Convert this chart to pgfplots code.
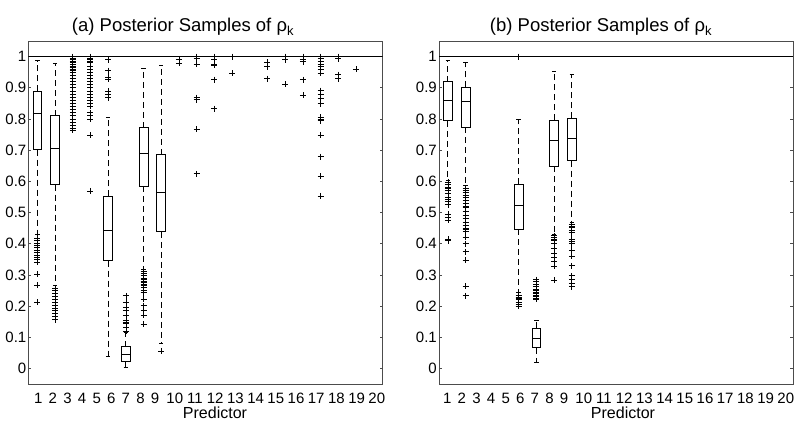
\documentclass[border=0pt]{standalone}
\usepackage{fontspec}
\setmainfont{Liberation Sans}
\usepackage{pgfplots}
\usepackage{pgfplotstable}
\pgfplotsset{compat=1.18}
\usepgfplotslibrary{statistics}

\pgfplotstableread{
x y
1 0.418
1 0.410
1 0.402
1 0.395
1 0.388
1 0.380
1 0.372
1 0.364
1 0.357
1 0.349
1 0.341
1 0.302
1 0.267
1 0.212
2 0.256
2 0.249
2 0.240
2 0.231
2 0.222
2 0.212
2 0.201
2 0.193
2 0.185
2 0.177
2 0.166
2 0.156
3 1.000
3 0.995
3 0.990
3 0.985
3 0.980
3 0.975
3 0.970
3 0.965
3 0.960
3 0.955
3 0.950
3 0.940
3 0.930
3 0.920
3 0.910
3 0.900
3 0.890
3 0.880
3 0.870
3 0.860
3 0.850
3 0.840
3 0.830
3 0.820
3 0.810
3 0.800
3 0.790
3 0.780
3 0.770
3 0.765
4 1.000
4 0.995
4 0.990
4 0.985
4 0.980
4 0.970
4 0.960
4 0.950
4 0.940
4 0.930
4 0.920
4 0.910
4 0.900
4 0.890
4 0.880
4 0.870
4 0.860
4 0.850
4 0.840
4 0.820
4 0.810
4 0.800
4 0.748
4 0.569
5 0.990
5 0.955
5 0.933
5 0.928
5 0.889
5 0.880
5 0.868
6 0.233
6 0.212
6 0.196
6 0.185
6 0.169
6 0.153
6 0.148
6 0.143
6 0.132
6 0.119
7 0.312
7 0.305
7 0.298
7 0.290
7 0.285
7 0.280
7 0.275
7 0.270
7 0.265
7 0.260
7 0.250
7 0.243
7 0.222
7 0.201
7 0.185
7 0.171
7 0.141
8 0.056
9 0.990
9 0.979
10 1.000
10 0.993
10 0.976
10 0.868
10 0.862
10 0.767
10 0.624
11 1.000
11 0.990
11 0.976
11 0.973
11 0.926
11 0.833
12 1.000
12 0.947
14 0.982
14 0.968
14 0.929
15 1.000
15 0.990
15 0.912
16 1.000
16 0.990
16 0.984
16 0.926
16 0.876
17 1.000
17 0.993
17 0.984
17 0.976
17 0.968
17 0.958
17 0.947
17 0.891
17 0.878
17 0.866
17 0.849
17 0.806
17 0.799
17 0.794
17 0.749
17 0.679
17 0.616
17 0.553
18 1.000
18 0.993
18 0.942
18 0.929
19 0.960
}\outA

\pgfplotstableread{
x y
1 0.598
1 0.590
1 0.580
1 0.578
1 0.572
1 0.560
1 0.550
1 0.543
1 0.535
1 0.525
1 0.494
1 0.485
1 0.475
1 0.415
1 0.410
2 0.577
2 0.570
2 0.565
2 0.555
2 0.548
2 0.540
2 0.530
2 0.520
2 0.515
2 0.505
2 0.490
2 0.480
2 0.470
2 0.460
2 0.450
2 0.445
2 0.440
2 0.420
2 0.400
2 0.374
2 0.348
2 0.264
2 0.233
5 1.000
5 0.233
5 0.228
5 0.225
5 0.220
5 0.212
5 0.205
5 0.200
6 0.285
6 0.278
6 0.270
6 0.262
6 0.255
6 0.250
6 0.245
6 0.240
6 0.235
6 0.230
6 0.225
6 0.222
7 0.426
7 0.420
7 0.415
7 0.410
7 0.400
7 0.384
7 0.370
7 0.356
7 0.342
7 0.327
7 0.283
8 0.462
8 0.457
8 0.452
8 0.442
8 0.435
8 0.415
8 0.408
8 0.400
8 0.379
8 0.360
8 0.329
8 0.297
8 0.285
8 0.272
8 0.262
}\outB

\newcommand{\bx}[6]{%
  \addplot[black, line width=0.8pt, boxplot prepared={draw direction=y, draw position=#1,
    lower whisker=#2, lower quartile=#3, median=#4,
    upper quartile=#5, upper whisker=#6}] coordinates {};}

\pgfplotsset{
  boxpanel/.style={
    anchor=south west, scale only axis,
    width=354pt, height=343pt,
    xmin=0.5, xmax=20.5, ymin=-0.05, ymax=1.05,
    xtick=\empty,
    ytick={0,0.1,0.2,0.3,0.4,0.5,0.6,0.7,0.8,0.9,1},
    yticklabels={0,0.1,0.2,0.3,0.4,0.5,0.6,0.7,0.8,0.9,1},
    tick align=inside, major tick length=3pt,
    axis line style={black!70, line width=0.8pt},
    every tick/.style={black!70, line width=0.7pt},
    yticklabel style={font=\fontsize{15}{15}\selectfont, inner sep=1pt, xshift=-1pt},
    boxplot/draw direction=y,
    boxplot/box extend=0.5,
    boxplot/whisker extend=0.25,
    boxplot/every box/.style={solid, line width=0.8pt},
    boxplot/every whisker/.style={dash pattern=on 6pt off 4pt, line width=0.8pt},
    boxplot/every median/.style={solid, line width=0.8pt},
  },
  outl/.style={only marks, mark=+, mark size=3pt, black, line width=0.7pt},
}

\begin{document}
\begin{tikzpicture}
\path[use as bounding box] (0,0) rectangle (799pt,426pt);

\begin{axis}[boxpanel, at={(28.5pt,42pt)}]
  \addplot[black, line width=0.8pt] coordinates {(0.5,1) (20.5,1)};
  \bx{1}{0.430}{0.702}{0.818}{0.889}{0.987}
  \bx{2}{0.265}{0.589}{0.706}{0.810}{0.979}
  \bx{5}{0.039}{0.346}{0.444}{0.552}{0.804}
  \bx{6}{0.002}{0.023}{0.044}{0.069}{0.115}
  \bx{7}{0.317}{0.584}{0.688}{0.772}{0.963}
  \bx{8}{0.079}{0.438}{0.565}{0.685}{0.971}
  \addplot[outl] table {\outA};
\end{axis}

\begin{axis}[boxpanel, at={(439pt,42pt)}]
  \addplot[black, line width=0.8pt] coordinates {(0.5,1) (20.5,1)};
  \bx{1}{0.603}{0.794}{0.861}{0.919}{0.987}
  \bx{2}{0.588}{0.773}{0.856}{0.901}{0.981}
  \bx{5}{0.243}{0.447}{0.523}{0.590}{0.800}
  \bx{6}{0.019}{0.066}{0.095}{0.128}{0.154}
  \bx{7}{0.431}{0.648}{0.731}{0.796}{0.953}
  \bx{8}{0.468}{0.666}{0.739}{0.802}{0.943}
  \addplot[outl] table {\outB};
\end{axis}

\node[anchor=base, font=\fontsize{18.5}{21}\selectfont] at (183pt,394.4pt) {(a) Posterior Samples of ρ\textsubscript{k}};
\node[anchor=base, font=\fontsize{18.5}{21}\selectfont] at (601pt,394.4pt) {(b) Posterior Samples of ρ\textsubscript{k}};

\foreach \off in {0,409}{
  \foreach \px/\lab in {38.3/1,52.9/2,67.5/3,82.1/4,96.7/5,111.3/6,125.9/7,140.5/8,155.1/9,
      174.8/10,195/11,215.2/12,235.4/13,255.6/14,275.8/15,296/16,316.2/17,336.4/18,356.6/19,376.8/20}{
    \node[anchor=base, inner sep=0pt, font=\fontsize{15}{15}\selectfont] at ({(\px+\off)*1pt},23pt) {\lab};
  }
}

\node[anchor=base, font=\fontsize{16}{16}\selectfont] at (215pt,8pt) {Predictor};
\node[anchor=base, font=\fontsize{16}{16}\selectfont] at (623pt,8pt) {Predictor};
\end{tikzpicture}
\end{document}
